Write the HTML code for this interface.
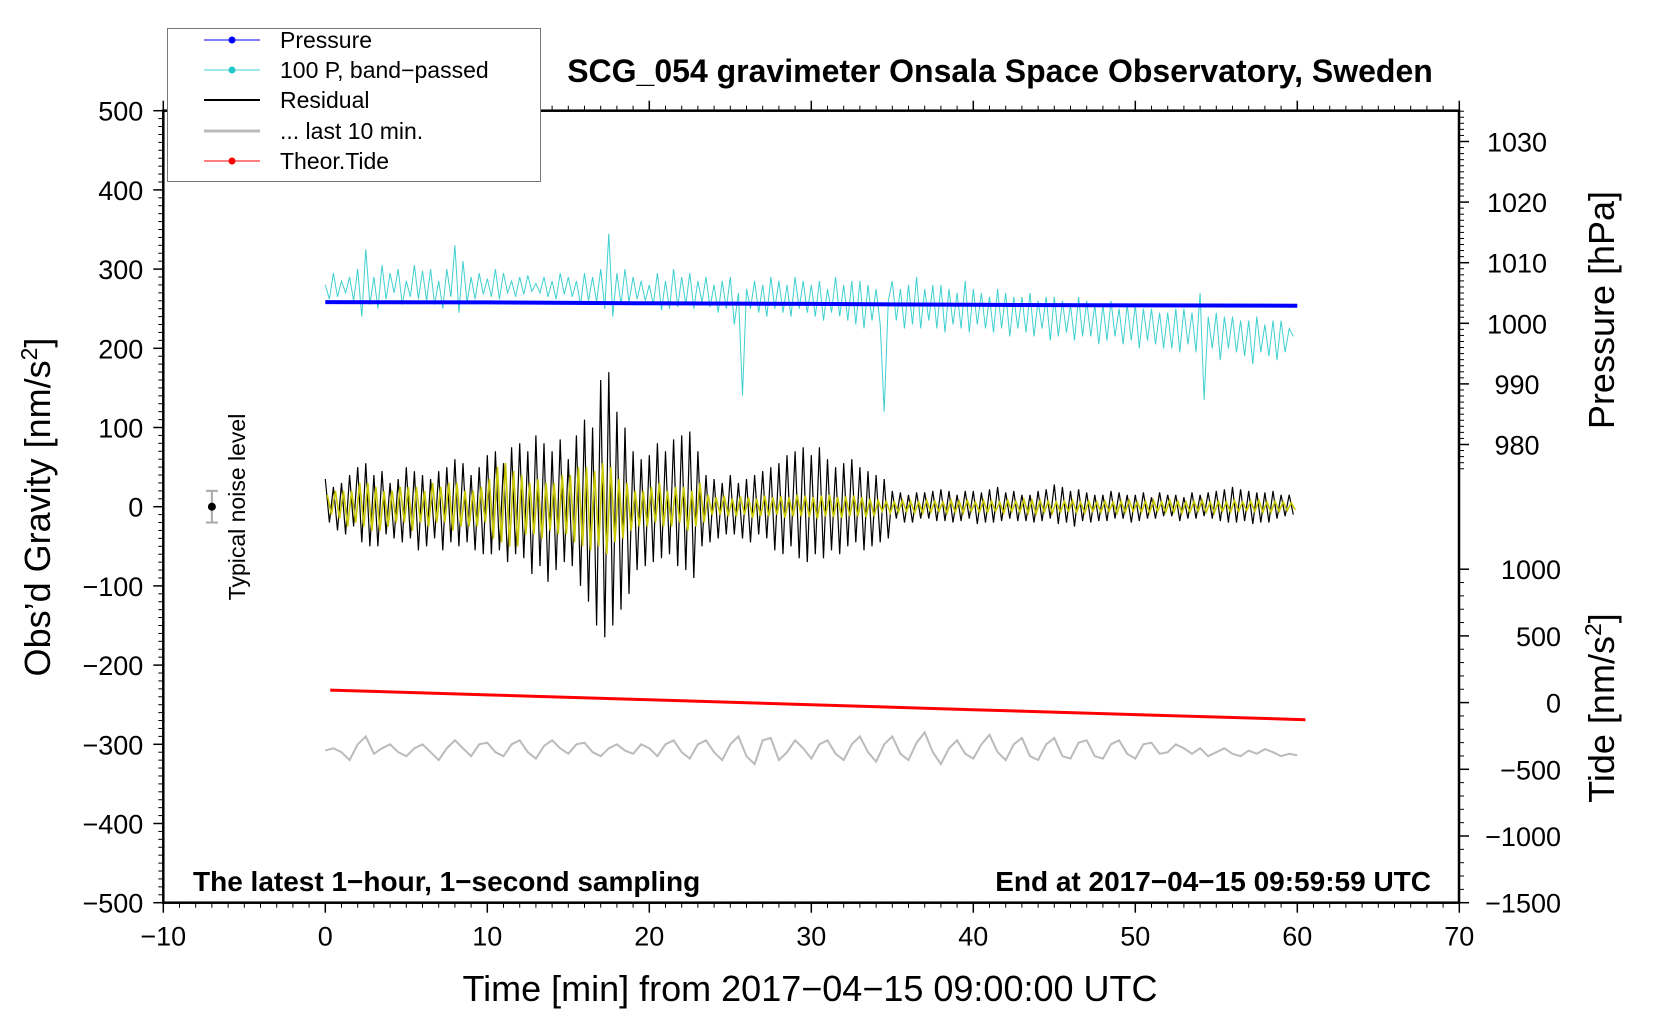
<!DOCTYPE html>
<html><head><meta charset="utf-8"><style>
html,body{margin:0;padding:0;background:#fff;}
svg{display:block;font-family:"Liberation Sans",Arial,sans-serif;}
</style></head><body>
<svg id="chart" width="1660" height="1020" viewBox="0 0 1660 1020" xmlns="http://www.w3.org/2000/svg">
<rect width="1660" height="1020" fill="#fff"/>
<g id="marks"></g>
<g id="axes"></g>
<text x="1000" y="82" font-size="32" font-weight="bold" text-anchor="middle">SCG_054 gravimeter Onsala Space Observatory, Sweden</text>
<text x="810" y="1001" font-size="36" text-anchor="middle">Time [min] from 2017−04−15 09:00:00 UTC</text>
<text transform="translate(50,507) rotate(-90)" font-size="36" text-anchor="middle">Obs’d Gravity [nm/s<tspan dy="-13" font-size="23">2</tspan><tspan dy="13">]</tspan></text>
<text transform="translate(1614,310) rotate(-90)" font-size="36" text-anchor="middle">Pressure [hPa]</text>
<text transform="translate(1614,708) rotate(-90)" font-size="36" text-anchor="middle">Tide [nm/s<tspan dy="-13" font-size="23">2</tspan><tspan dy="13">]</tspan></text>
<text x="193" y="891" font-size="28" font-weight="bold">The latest 1−hour, 1−second sampling</text>
<text x="1431" y="891" font-size="28" font-weight="bold" text-anchor="end">End at 2017−04−15 09:59:59 UTC</text>
<text transform="translate(245,507) rotate(-90)" font-size="23" text-anchor="middle">Typical noise level</text>
<g>
<rect x="167.5" y="28.5" width="373" height="153" fill="#fff" stroke="#777" stroke-width="1"/>
<g><line x1="204" y1="40" x2="260" y2="40" stroke="#0000ff" stroke-width="1"/><circle cx="232" cy="40" r="3.5" fill="#0000ff"/><text x="280" y="48" font-size="23">Pressure</text></g>
<g><line x1="204" y1="70" x2="260" y2="70" stroke="#40d0d0" stroke-width="1"/><circle cx="232" cy="70" r="3.5" fill="#20c8c8"/><text x="280" y="78" font-size="23">100 P, band−passed</text></g>
<g><line x1="204" y1="100" x2="260" y2="100" stroke="#000" stroke-width="2"/><text x="280" y="108" font-size="23">Residual</text></g>
<g><line x1="204" y1="131" x2="260" y2="131" stroke="#bbb" stroke-width="3"/><text x="280" y="139" font-size="23">... last 10 min.</text></g>
<g><line x1="204" y1="161" x2="260" y2="161" stroke="#ff0000" stroke-width="1"/><circle cx="232" cy="161" r="3.5" fill="#ff0000"/><text x="280" y="169" font-size="23">Theor.Tide</text></g>
</g>
</svg>
<script>
// ---- data ----
const xTicks=[-10,0,10,20,30,40,50,60,70];
const gravityTicks=[-500,-400,-300,-200,-100,0,100,200,300,400,500];
const pressureTicks=[980,990,1000,1010,1020,1030];
const tideTicks=[-1500,-1000,-500,0,500,1000];
const pressureTimes=[0,10,20,30,40,50,60];
const pressureValues=[1003.5,1003.45,1003.3,1003.2,1003.05,1002.95,1002.9];
const tideTimes=[0.3,10,20,30,40,50,60.5];
const tideValues=[94,58,21,-16,-53,-90,-128];
const noiseX=[-7];
const noiseCenter=[0];
const noiseHalf=[20];
const residualValues=[35,-20,25,-30,30,-35,40,-25,50,-45,55,-50,40,-50,45,-35,30,-40,35,-45,50,-40,45,-55,40,-50,35,-40,45,-55,50,-45,60,-50,55,-45,40,-55,50,-60,
65,-60,70,-55,55,-70,75,-60,80,-65,70,-85,90,-75,80,-95,70,-80,85,-70,60,-75,90,-100,110,-120,100,-150,160,-165,170,-150,120,-130,100,-110,70,-80,60,-75,
65,-70,80,-65,70,-60,85,-75,90,-80,95,-90,70,-50,40,-45,35,-40,30,-35,40,-35,30,-40,35,-45,40,-35,45,-40,50,-55,55,-60,65,-50,70,-65,75,-70,
65,-60,75,-65,60,-55,50,-60,55,-50,60,-45,50,-55,45,-50,40,-45,35,-40,20,-15,18,-20,15,-20,18,-15,18,-15,20,-18,22,-18,20,-20,15,-18,20,-15,
20,-22,18,-20,22,-20,25,-18,18,-15,20,-18,15,-18,15,-20,20,-18,22,-15,28,-22,25,-20,20,-25,22,-18,18,-20,15,-18,15,-18,20,-15,18,-15,15,-20,
15,-18,18,-15,12,-15,18,-12,15,-12,15,-18,12,-15,18,-15,15,-12,18,-15,20,-18,22,-20,25,-20,22,-18,20,-22,18,-20,18,-20,20,-15,15,-12,15,-10];
const filteredValues=[15,-10,20,-15,20,-25,20,-20,30,-25,30,-30,25,-30,20,-25,20,-20,25,-20,25,-30,25,-20,20,-25,30,-20,25,-20,30,-30,30,-25,20,-25,20,-25,25,-20,
35,-40,50,-45,55,-50,45,-50,40,-35,30,-35,35,-40,30,-30,30,-35,40,-35,40,-45,50,-50,50,-55,45,-50,55,-60,50,-45,35,-40,30,-30,20,-25,20,-25,
25,-20,30,-25,20,-25,25,-20,25,-30,20,-25,30,-20,15,-10,12,-10,14,-12,10,-12,13,-10,12,-14,10,-12,14,-12,12,-10,13,-14,12,-12,15,-12,14,-13,
12,-15,14,-12,15,-13,12,-14,13,-12,14,-12,12,-13,10,-12,8,-6,7,-8,6,-7,8,-6,7,-8,6,-8,8,-7,7,-6,6,-8,8,-7,
7,-8,8,-6,6,-7,8,-7,7,-6,6,-8,8,-6,7,-7,9,-8,8,-9,8,-7,7,-8,6,-7,7,-6,8,-7,6,-8,7,-6,6,-7,
7,-6,6,-8,7,-7,8,-6,6,-7,7,-8,8,-6,6,-7,8,-7,7,-8,6,-7,7,-6,8,-7,6,-8,7,-6,6,-7,8,-6,6,-5,
7,-6,8,-7,6,-7,7,-6,6,-5,5,-4];
const bandpassValues=[280,262,295,265,285,270,290,260,300,240,325,255,290,250,305,262,295,270,300,255,285,265,305,262,298,260,300,255,285,250,300,265,330,245,310,258,290,262,295,268,
288,265,300,262,295,270,285,265,290,268,292,272,282,270,290,265,285,262,295,268,290,265,285,255,295,260,290,258,300,250,345,240,295,255,300,258,290,262,285,260,
280,255,295,248,285,250,300,252,290,255,295,250,285,258,290,252,280,245,285,250,290,230,270,140,275,250,285,245,280,240,290,250,285,245,280,240,290,250,285,245,
280,240,285,235,275,245,290,240,280,235,285,230,285,225,280,235,275,230,120,260,285,235,275,225,280,230,290,225,275,235,280,225,280,220,275,230,270,225,285,220,
275,230,270,225,265,220,275,225,270,215,265,225,265,220,270,215,260,225,265,210,265,215,260,220,255,210,265,215,260,215,255,205,255,210,260,215,250,205,255,210,
255,200,250,210,250,205,245,200,245,200,250,195,250,205,245,195,270,135,240,200,245,185,240,200,240,195,235,190,235,180,240,195,230,190,235,185,235,195,225,215];
const last10Values=[-308,-305,-310,-320,-300,-290,-312,-305,-300,-310,-315,-305,-300,-310,-320,-305,-295,-305,-315,-300,
-298,-310,-315,-300,-295,-310,-318,-302,-295,-305,-312,-300,-298,-310,-315,-305,-300,-308,-312,-300,
-305,-315,-300,-295,-310,-318,-300,-295,-310,-320,-300,-290,-315,-325,-295,-292,-320,-310,-295,-305,
-318,-300,-295,-312,-320,-300,-290,-310,-322,-300,-290,-312,-320,-298,-285,-310,-325,-305,-295,-312,
-318,-300,-288,-310,-320,-300,-292,-315,-320,-300,-292,-315,-318,-298,-295,-315,-318,-300,-295,-312,
-318,-300,-298,-312,-310,-300,-305,-312,-305,-315,-310,-305,-312,-315,-308,-312,-306,-310,-315,-312,-314];

// ---- scales ----
const X=t=>163.3+(t+10)*16.2;
const Yg=g=>506.7-g*0.792;
const Yp=p=>323.3-(p-1000)*6.06;
const Yt=v=>702.6-v*0.1334;
const NS='http://www.w3.org/2000/svg';
const marks=document.getElementById('marks');
const axes=document.getElementById('axes');
function mk(tag,attrs,parent){const e=document.createElementNS(NS,tag);for(const k in attrs)e.setAttribute(k,attrs[k]);parent.appendChild(e);return e;}
function poly(ts,vs,yf){return ts.map((t,i)=>X(t).toFixed(1)+','+yf(vs[i]).toFixed(1)).join(' ');}
const step=arr=>arr.map((_,i)=>i*0.25);

let e;
e=mk('polyline',{points:poly(step(bandpassValues),bandpassValues,Yg),fill:'none',stroke:'#40d0d0','stroke-width':1},marks);


e=mk('polyline',{points:poly(pressureTimes,pressureValues,Yp),fill:'none',stroke:'#0000ff','stroke-width':4},marks);


e=mk('polyline',{points:poly(step(residualValues),residualValues,Yg),fill:'none',stroke:'#000','stroke-width':1.2},marks);


e=mk('polyline',{points:poly(filteredValues.map((_,i)=>i*0.25+0.125),filteredValues,Yg),fill:'none',stroke:'#c8c800','stroke-width':1.6},marks);


e=mk('polyline',{points:poly(last10Values.map((_,i)=>i*60/(last10Values.length-1)),last10Values,Yg),fill:'none',stroke:'#bbb','stroke-width':2},marks);


e=mk('polyline',{points:poly(tideTimes,tideValues,Yt),fill:'none',stroke:'#ff0000','stroke-width':3},marks);


noiseX.forEach((nx,i)=>{
  const x=X(nx),y0=Yg(noiseCenter[i]-noiseHalf[i]),y1=Yg(noiseCenter[i]+noiseHalf[i]);
  const g=mk('g',{},marks);
  
  
  mk('line',{x1:x,y1:y0,x2:x,y2:y1,stroke:'#aaa','stroke-width':2},g);
  mk('line',{x1:x-6,y1:y0,x2:x+6,y2:y0,stroke:'#aaa','stroke-width':2},g);
  mk('line',{x1:x-6,y1:y1,x2:x+6,y2:y1,stroke:'#aaa','stroke-width':2},g);
  mk('circle',{cx:x,cy:Yg(noiseCenter[i]),r:4,fill:'#000'},g);
});

// ---- axes ----
const L=163.3,R=1459,T=110.7,B=902.7;
e=mk('rect',{x:L,y:T,width:R-L,height:B-T,fill:'none',stroke:'#000','stroke-width':2.5},axes);


for(let t=-10;t<=70;t+=1){const maj=t%10===0;const len=maj?10:5;
  mk('line',{x1:X(t),y1:B,x2:X(t),y2:B+len,stroke:'#000','stroke-width':maj?1.5:1},axes);
  mk('line',{x1:X(t),y1:T,x2:X(t),y2:T-len,stroke:'#000','stroke-width':maj?1.5:1},axes);}
xTicks.forEach(t=>{e=mk('text',{x:X(t),y:B+43,'font-size':27,'text-anchor':'middle'},axes);e.textContent=String(t).replace('-','−');
  
  });
for(let g=-500;g<=500;g+=10){const maj=g%100===0;const len=maj?10:5;
  mk('line',{x1:L,y1:Yg(g),x2:L-len,y2:Yg(g),stroke:'#000','stroke-width':maj?1.5:1},axes);}
gravityTicks.forEach(g=>{e=mk('text',{x:L-20,y:Yg(g)+10,'font-size':27,'text-anchor':'end'},axes);e.textContent=String(g).replace('-','−');
  
  });
for(let p=976;p<=1035;p+=1){const maj=p%10===0;const len=maj?10:5;
  mk('line',{x1:R,y1:Yp(p),x2:R+len,y2:Yp(p),stroke:'#000','stroke-width':maj?1.5:1},axes);}
pressureTicks.forEach(p=>{e=mk('text',{x:R+58,y:Yp(p)+10,'font-size':27,'text-anchor':'middle'},axes);e.textContent=p;
  
  });
for(let v=-1500;v<=1000;v+=100){const maj=v%500===0;const len=maj?10:5;
  mk('line',{x1:R,y1:Yt(v),x2:R+len,y2:Yt(v),stroke:'#000','stroke-width':maj?1.5:1},axes);}
tideTicks.forEach(v=>{e=mk('text',{x:R+102,y:Yt(v)+10,'font-size':27,'text-anchor':'end'},axes);e.textContent=String(v).replace('-','−');
  
  });
</script>
</body></html>
